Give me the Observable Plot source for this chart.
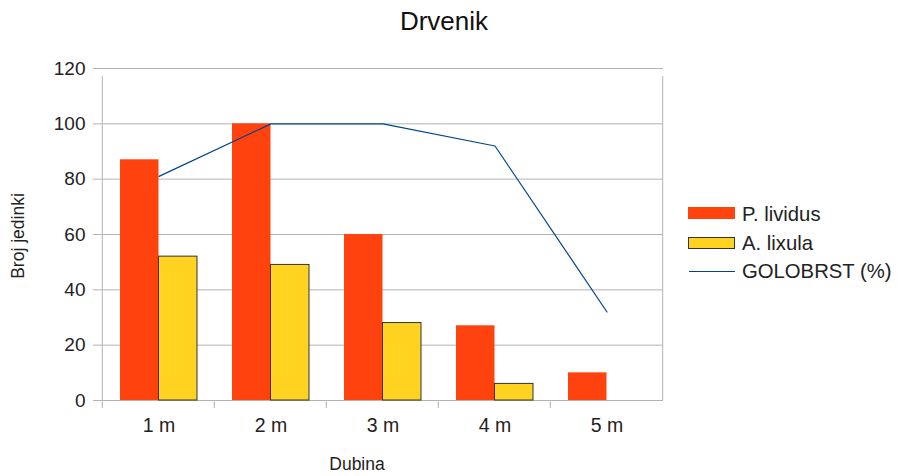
<!DOCTYPE html>
<html><head><meta charset="utf-8">
<script src="https://cdn.jsdelivr.net/npm/d3@7"></script>
<script src="https://cdn.jsdelivr.net/npm/@observablehq/plot@0.6"></script>
<style>
body{margin:0;background:#fff;font-family:"Liberation Sans",Arial,sans-serif;}
#wrap{position:relative;width:897px;height:476px;overflow:hidden;}
#wrap svg{position:absolute;left:0;top:0;}
.t{position:absolute;color:#222;white-space:nowrap;line-height:1;}
.sw{position:absolute;box-sizing:border-box;}
</style></head><body><div id="wrap"></div>
<script>
const categories = ["1 m", "2 m", "3 m", "4 m", "5 m"];
const pLividus = [87, 100, 60, 27, 10];
const aLixula = [52, 49, 28, 6, null];
const golobrst = [81, 100, 100, 92, 32];
const yTicks = [0, 20, 40, 60, 80, 100, 120];
const seriesNames = ["P. lividus", "A. lixula", "GOLOBRST (%)"];
const seriesColors = ["#ff420e", "#ffd320", "#004586"];
const titleText = "Drvenik";
const xLabel = "Dubina";
const yLabel = "Broj jedinki";

const W = 897, H = 476, ML = 101, MR = 234, MT = 68, MB = 76;
const step = (W - ML - MR) / categories.length;
const padInner = 0.315;
const half = step * (1 - padInner) / 2;
const grid = "#b3b3b3";

const rows = categories.map((c, i) => ({cat: c, p: pLividus[i], a: aLixula[i], g: golobrst[i]}));

const chart = Plot.plot({
  width: W, height: H,
  marginLeft: ML, marginRight: MR, marginTop: MT, marginBottom: MB,
  style: {fontSize: "19px", fontFamily: "'Liberation Sans', Arial, sans-serif", color: "#222", background: "#fff"},
  x: {type: "band", domain: categories, paddingInner: padInner, paddingOuter: padInner / 2},
  y: {domain: [0, 120]},
  marks: [
    Plot.ruleY(yTicks, {stroke: grid, strokeWidth: 1}),
    Plot.ruleX(categories, {x: d => d, dx: -step / 2 - 0.5, y1: 0, y2: 0, insetBottom: -8, stroke: grid}),
    Plot.ruleX([categories[0]], {x: d => d, dx: -step / 2 - 0.5, y1: 0, y2: 120, insetBottom: -8, stroke: grid}),
    Plot.ruleX([categories[categories.length - 1]], {x: d => d, dx: step / 2 - 0.5, y1: 0, y2: 120, insetBottom: -8, stroke: grid}),
    Plot.axisY({ticks: yTicks, tickSize: 8, tickPadding: 8, stroke: grid, fill: "#222", label: null, fontSize: 19}),
    Plot.axisX({tickSize: 0, tickPadding: 18, fill: "#222", label: null, fontSize: 19.5}),
    Plot.barY(rows, {x: "cat", y: "p", fill: seriesColors[0], insetRight: half}),
    Plot.barY(rows.filter(d => d.a != null), {x: "cat", y: "a", fill: seriesColors[1], stroke: "#333", strokeWidth: 1, insetLeft: half}),
    Plot.lineY(rows, {x: "cat", y: "g", stroke: seriesColors[2], strokeWidth: 1.2})
  ]
});

const wrap = document.getElementById("wrap");
wrap.appendChild(chart);

function addText(txt, css) {
  const d = document.createElement("div");
  d.className = "t";
  d.textContent = txt;
  Object.assign(d.style, css);
  wrap.appendChild(d);
  return d;
}
addText(titleText, {left: "444px", top: "8px", fontSize: "26px", color: "#111", transform: "translateX(-50%)"});
addText(xLabel, {left: "357px", top: "456px", fontSize: "17.5px", transform: "translateX(-50%)"});
addText(yLabel, {left: "18.5px", top: "236px", fontSize: "17.5px", transform: "translate(-50%,-50%) rotate(-90deg)"});

// legend
const legTop = [203.5, 232.5, 260.5];
const swTop = [207, 236.5, 270.5];
seriesNames.forEach((name, i) => {
  const sw = document.createElement("div");
  sw.className = "sw";
  if (i === 0) Object.assign(sw.style, {left: "688px", top: swTop[i] + "px", width: "47px", height: "11.5px", background: seriesColors[0]});
  else if (i === 1) Object.assign(sw.style, {left: "688px", top: swTop[i] + "px", width: "47px", height: "12.5px", background: seriesColors[1], border: "1px solid #333"});
  else Object.assign(sw.style, {left: "689px", top: swTop[i] + "px", width: "46px", height: "1.2px", background: seriesColors[2]});
  wrap.appendChild(sw);
  addText(name, {left: "742px", top: legTop[i] + "px", fontSize: "20.3px"});
});
</script></body></html>
